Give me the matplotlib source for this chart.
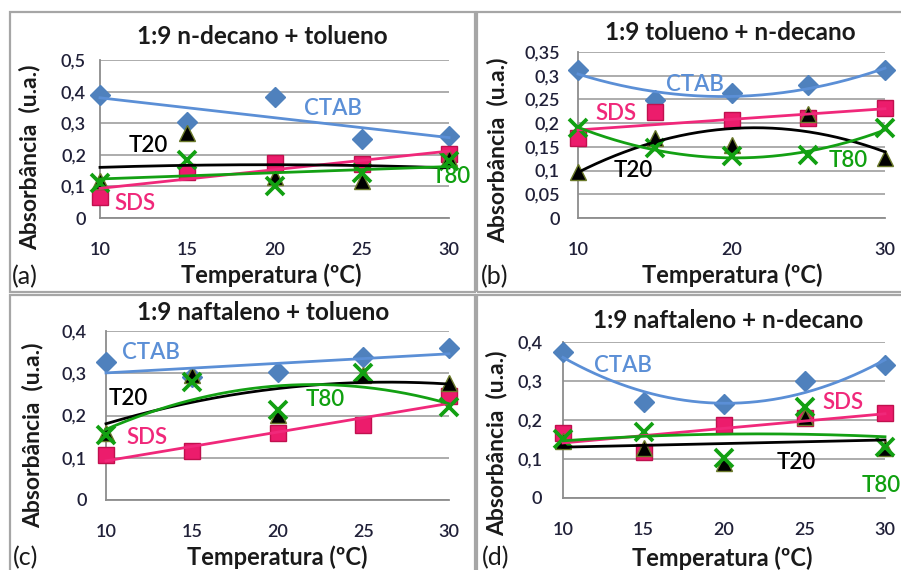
import matplotlib.pyplot as plt
import numpy as np
from matplotlib.patches import Rectangle

plt.rcParams['font.family'] = ['Lato', 'DejaVu Sans']

temps = [10, 15, 20, 25, 30]
names = ["CTAB", "SDS", "T20", "T80"]

# (a) 1:9 n-decano + tolueno
a_ctab = [0.39, 0.305, 0.382, 0.25, 0.26]
a_sds = [0.068, 0.147, 0.174, 0.172, 0.203]
a_t20 = [0.116, 0.268, 0.13, 0.116, 0.19]
a_t80 = [0.11, 0.184, 0.10, 0.142, 0.18]

# (b) 1:9 tolueno + n-decano
b_ctab = [0.311, 0.249, 0.264, 0.28, 0.311]
b_sds = [0.168, 0.224, 0.207, 0.21, 0.231]
b_t20 = [0.098, 0.168, 0.154, 0.22, 0.126]
b_t80 = [0.189, 0.147, 0.13, 0.133, 0.189]

# (c) 1:9 naftaleno + tolueno
c_ctab = [0.327, 0.29, 0.302, 0.339, 0.359]
c_sds = [0.106, 0.116, 0.158, 0.178, 0.245]
c_t20 = [0.158, 0.297, 0.201, 0.296, 0.276]
c_t80 = [0.155, 0.28, 0.213, 0.30, 0.221]

# (d) 1:9 naftaleno + n-decano
d_ctab = [0.374, 0.247, 0.24, 0.30, 0.34]
d_sds = [0.166, 0.119, 0.187, 0.204, 0.217]
d_t20 = [0.145, 0.128, 0.089, 0.208, 0.128]
d_t80 = [0.151, 0.17, 0.102, 0.234, 0.132]

titles = ["1:9 n-decano + tolueno", "1:9 tolueno + n-decano",
          "1:9 naftaleno + tolueno", "1:9 naftaleno + n-decano"]
tags = ["(a)", "(b)", "(c)", "(d)"]

mark_col = {"CTAB": "#4F81BD", "SDS": "#EC1C6C", "T20": "#000000", "T80": "#12A012"}
line_col = {"CTAB": "#5B8FD6", "SDS": "#F0287A", "T20": "#000000", "T80": "#13A013"}
text_col = {"CTAB": "#5B8FD6", "SDS": "#F0287A", "T20": "#000000", "T80": "#10A010"}
W, H = 901, 570

fig = plt.figure(figsize=(9.01, 5.70), dpi=100)

def box(x0, y0, x1, y1):
    fig.patches.append(Rectangle((x0 / W, 1 - y1 / H), (x1 - x0) / W, (y1 - y0) / H,
                                 transform=fig.transFigure, fill=False,
                                 edgecolor="#A6A6A6", lw=1.6, zorder=0))

box(10, 12, 475, 292)
box(477, 12, 905, 292)
box(10, 295, 475, 575)
box(477, 295, 905, 575)

# pixel layout for each panel: axes rect, ylim, yticks, xticks, ypad, title, labels
panels = [
    dict(rect=(100, 60, 449, 218), ymax=0.5, yt=[0, 0.1, 0.2, 0.3, 0.4, 0.5],
         xt=temps, ypad=10, data=[a_ctab, a_sds, a_t20, a_t80], deg=[1, 1, 2, 1],
         title=(262, 37), ylab=(30, 157), xlab=(271, 275), tag=(12, 277),
         lab={"CTAB": (23.35, 0.348, 'center'), "T20": (12.75, 0.231, 'center'),
              "SDS": (12.0, 0.047, 'center'), "T80": (29.03, 0.13, 'left')}),
    dict(rect=(578, 52, 885, 218), ymax=0.35, yt=[0, 0.05, 0.1, 0.15, 0.2, 0.25, 0.3, 0.35],
         xt=[10, 20, 30], ypad=13, data=[b_ctab, b_sds, b_t20, b_t80], deg=[2, 1, 2, 2],
         title=(730, 33), ylab=(498, 150), xlab=(732, 275), tag=(481, 277),
         lab={"CTAB": (17.6, 0.281, 'center'), "SDS": (12.5, 0.221, 'center'),
              "T20": (13.6, 0.101, 'center'), "T80": (27.6, 0.122, 'center')}),
    dict(rect=(106, 331, 449, 500), ymax=0.4, yt=[0, 0.1, 0.2, 0.3, 0.4],
         xt=temps, ypad=14, data=[c_ctab, c_sds, c_t20, c_t80], deg=[1, 1, 2, 2],
         title=(263, 312), ylab=(33, 435), xlab=(277, 557), tag=(13, 558),
         lab={"CTAB": (12.6, 0.350, 'center'), "T20": (11.3, 0.241, 'center'),
              "T80": (22.8, 0.237, 'center'), "SDS": (12.4, 0.149, 'center')}),
    dict(rect=(563, 342, 885, 498), ymax=0.4, yt=[0, 0.1, 0.2, 0.3, 0.4],
         xt=temps, ypad=15, data=[d_ctab, d_sds, d_t20, d_t80], deg=[2, 1, 1, 2],
         title=(728, 320), ylab=(497, 443), xlab=(722, 558), tag=(482, 558),
         lab={"CTAB": (13.7, 0.341, 'center'), "SDS": (27.4, 0.244, 'center'),
              "T20": (24.5, 0.090, 'center'), "T80": (31.0, 0.033, 'right')}),
]

xs = np.linspace(10, 30, 200)
for i, p in enumerate(panels):
    x0, y0, x1, y1 = p["rect"]
    ax = fig.add_axes([x0 / W, 1 - y1 / H, (x1 - x0) / W, (y1 - y0) / H])
    ax.set_xlim(10, 30)
    ax.set_ylim(0, p["ymax"])
    ax.set_xticks(p["xt"])
    ax.set_yticks(p["yt"])
    ax.set_yticklabels(['{:g}'.format(v).replace('.', ',') for v in p["yt"]])
    ax.tick_params(length=0, labelsize=13, labelcolor="#202038")
    for t in ax.get_xticklabels() + ax.get_yticklabels():
        t.set_fontweight('semibold')
    ax.tick_params(axis='x', pad=17)
    ax.tick_params(axis='y', pad=p["ypad"])
    ax.grid(axis='y', color="#A6A6A6", lw=1.3)
    ax.set_axisbelow(True)
    for s in ["top", "right"]:
        ax.spines[s].set_visible(False)
    for s in ["left", "bottom"]:
        ax.spines[s].set_color("#8C8C8C")
        ax.spines[s].set_linewidth(1.3)

    for k, name in enumerate(names):
        y = p["data"][k]
        if name == "CTAB":
            ax.plot(temps, y, 'D', ms=10, color=mark_col[name], mec=mark_col[name], zorder=3, clip_on=False)
        elif name == "SDS":
            ax.plot(temps, y, 's', ms=12, color=mark_col[name], mec="#C0104E", zorder=3, clip_on=False)
        elif name == "T20":
            ax.plot(temps, y, '^', ms=11.5, color="#000000", mec="#6B7A2A", mew=1, zorder=4, clip_on=False)
        else:
            ax.plot(temps, y, 'x', ms=12.5, mew=2.7, color=mark_col[name], zorder=5, clip_on=False)
        coef = np.polyfit(temps, y, p["deg"][k])
        ax.plot(xs, np.polyval(coef, xs), color=line_col[name], lw=2, zorder=6, clip_on=False)
        tx, ty, ha = p["lab"][name]
        ax.text(tx, ty, name, color=text_col[name], fontsize=16, fontweight='semibold',
                ha=ha, va='center', zorder=7, clip_on=False)

    fig.text(p["title"][0] / W, 1 - p["title"][1] / H, titles[i], fontsize=17.5,
             fontweight='bold', ha='center', va='center', color="#1A1A1A")
    fig.text(p["ylab"][0] / W, 1 - p["ylab"][1] / H, "Absorbância  (u.a.)", fontsize=16.5,
             fontweight='bold', rotation=90, ha='center', va='center', color="#1A1A1A")
    fig.text(p["xlab"][0] / W, 1 - p["xlab"][1] / H, "Temperatura (ºC)", fontsize=17,
             fontweight='bold', ha='center', va='center', color="#1A1A1A")
    fig.text(p["tag"][0] / W, 1 - p["tag"][1] / H, tags[i], fontsize=18,
             ha='left', va='center', color="#1A1A1A")

fig.savefig("out.png", dpi=100, facecolor="white")
